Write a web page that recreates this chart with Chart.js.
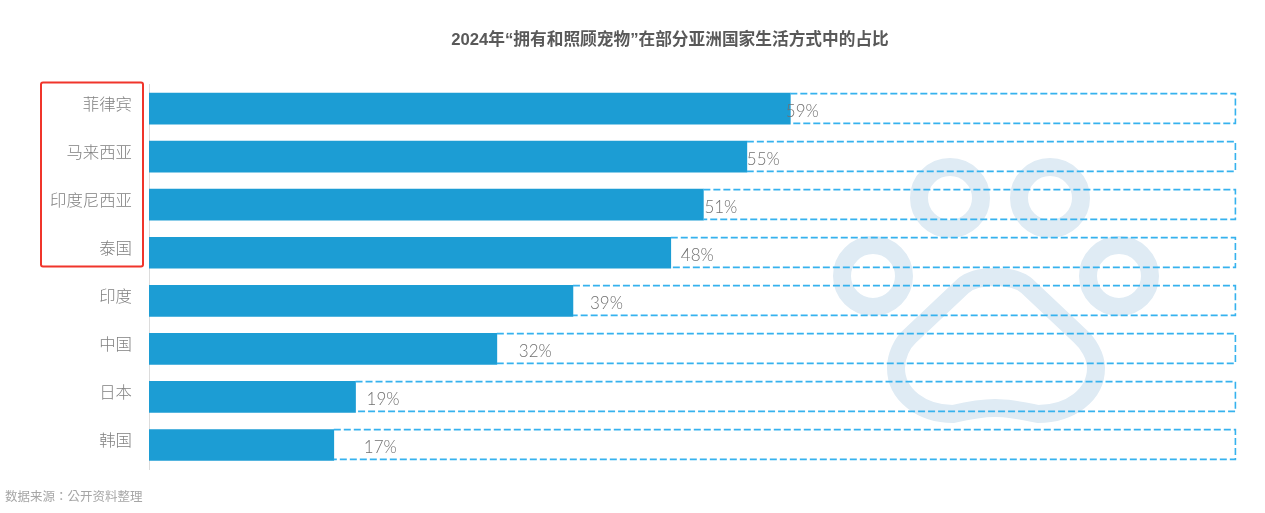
<!DOCTYPE html>
<html><head><meta charset="utf-8">
<style>html,body{margin:0;padding:0;background:#fff}canvas{display:block}#w{width:1265px;height:513px;position:relative}</style>
<script src="https://cdn.jsdelivr.net/npm/chart.js@4"></script>
</head><body><div id="w"><canvas id="c" width="1265" height="513"></canvas></div>
<script>
const categories = ["菲律宾","马来西亚","印度尼西亚","泰国","印度","中国","日本","韩国"];
const shareValues = [59,55,51,48,39,32,19,17];
const fullValues = [100,100,100,100,100,100,100,100];
const labelShift = [12,16.5,17.5,26.5,33.5,38.5,27.5,46.5];
const titleText = "2024年“拥有和照顾宠物”在部分亚洲国家生活方式中的占比";
const sourceText = "数据来源：公开资料整理";
const FONT = '"Noto Sans CJK SC","Noto Sans",sans-serif';

const paper = {
  id:'paper',
  afterLayout(chart){
    if(chart.titleBlock){ chart.titleBlock.left += 31.5; chart.titleBlock.right += 31.5; }
  },
  beforeDatasetsDraw(chart){
    const c = chart.ctx;
    c.save();
    c.strokeStyle = '#dfebf4';
    c.lineWidth = 18;
    [[950,198],[1050,198],[873,276],[1119,276]].forEach(p=>{
      c.beginPath(); c.arc(p[0],p[1],31,0,Math.PI*2); c.stroke();
    });
    c.lineJoin='round';
    c.beginPath();
    c.moveTo(995,277);
    c.bezierCurveTo(1006,277,1018,278,1027,286);
    c.lineTo(1080,336);
    c.bezierCurveTo(1088,343,1096,356,1096,368);
    c.bezierCurveTo(1096,395,1070,414,1038,414);
    c.bezierCurveTo(1024,411,1010,408,995,408);
    c.bezierCurveTo(980,408,966,411,953,414);
    c.bezierCurveTo(922,414,896,395,896,368);
    c.bezierCurveTo(896,356,902,343,910,336);
    c.lineTo(963,286);
    c.bezierCurveTo(972,278,984,277,995,277);
    c.closePath();
    c.stroke();
    c.restore();
  },
  afterDatasetsDraw(chart){
    const c = chart.ctx, track = chart.getDatasetMeta(1).data, bars = chart.getDatasetMeta(0).data;
    c.save();
    c.strokeStyle = '#36b2ee';
    c.lineWidth = 1.6;
    c.setLineDash([7,3]);
    track.forEach((b,i)=>{
      const top = Math.round(b.y - b.height/2)+0.6, bot = Math.round(b.y + b.height/2)-0.6, l = bars[i].x, r = Math.round(b.x)-0.6;
      c.beginPath();
      c.moveTo(l,top); c.lineTo(r,top); c.lineTo(r,bot); c.lineTo(l,bot);
      c.stroke();
    });
    c.setLineDash([]);
    c.font = '300 17px Lato,'+FONT;
    c.fillStyle = '#707070';
    c.textAlign='center'; c.textBaseline='middle';
    bars.forEach((b,i)=>{ c.fillText(shareValues[i]+'%', b.x+labelShift[i], b.y+2.5); });
    c.font = '12.5px "Noto Sans CJK TC",'+FONT;
    c.fillStyle = '#a6a6a6';
    c.textAlign='left';
    c.fillText(sourceText,5,496);
    c.strokeStyle='#f0352b'; c.lineWidth=2;
    c.beginPath(); c.roundRect(41,82.5,102,184,2); c.stroke();
    c.restore();
  }
};

new Chart(document.getElementById('c'),{
  type:'bar',
  plugins:[paper],
  data:{labels:categories,datasets:[
    {data:shareValues,backgroundColor:'#1c9dd4',barThickness:31,grouped:false,order:0},
    {data:fullValues,backgroundColor:'rgba(0,0,0,0)',barThickness:31,grouped:false,order:1}
  ]},
  options:{
    indexAxis:'y',responsive:false,animation:false,
    layout:{padding:{left:41,right:29,top:0,bottom:44}},
    plugins:{
      legend:{display:false},tooltip:{enabled:false},
      title:{display:true,text:titleText,color:'#595959',
        font:{family:'"Liberation Sans",'+FONT,size:16.7,weight:'bold'},padding:{top:30,bottom:34.5}}
    },
    scales:{
      x:{display:false,min:0,max:100},
      y:{
        afterFit(s){s.width=108;},
        grid:{display:false,drawTicks:false},
        border:{display:true,color:'#dcdcdc',width:1},
        ticks:{color:'#808080',padding:17,labelOffset:-5,font:{family:FONT,size:16.4,weight:300}}
      }
    }
  }
});
</script></body></html>
